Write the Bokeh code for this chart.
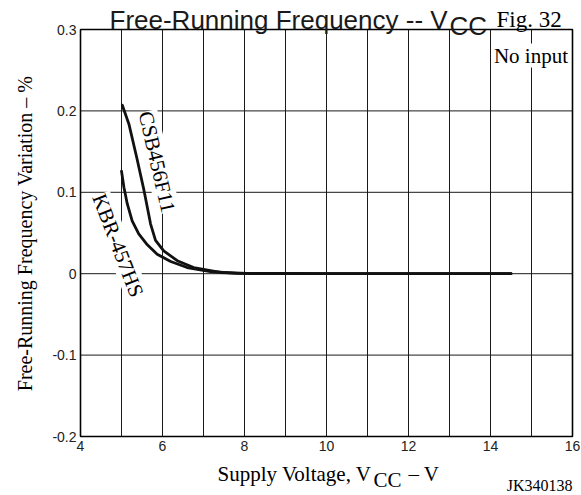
import math
from bokeh.plotting import figure
from bokeh.models import Label, Range1d
from bokeh.core.properties import value
from bokeh.embed import file_html
from bokeh.resources import INLINE

# ---- data ----
x_ticks = [4, 6, 8, 10, 12, 14, 16]
x_tick_labels = ["4", "6", "8", "10", "12", "14", "16"]
x_grid = [4, 5, 6, 7, 8, 9, 10, 11, 12, 13, 14, 15, 16]
y_ticks = [-0.2, -0.1, 0.0, 0.1, 0.2, 0.3]
y_tick_labels = ["-0.2", "-0.1", "0", "0.1", "0.2", "0.3"]

csb_v = [5.02, 5.18, 5.37, 5.55, 5.71, 5.83, 6.03, 6.36, 6.76, 7.41, 8.07, 10.0, 12.0, 14.5]
csb_f = [0.207, 0.184, 0.143, 0.102, 0.061, 0.041, 0.028, 0.016, 0.0076, 0.0015, 0.0003, 0.0, 0.0, 0.0]

kbr_v = [5.0, 5.06, 5.14, 5.26, 5.42, 5.63, 5.87, 6.2, 6.6, 7.17, 7.82, 10.0, 12.0, 14.5]
kbr_f = [0.126, 0.106, 0.086, 0.065, 0.049, 0.0355, 0.024, 0.015, 0.0076, 0.0027, 0.0003, 0.0, 0.0, 0.0]

SERIF = "Liberation Serif"
SANS = "Liberation Sans"

# ---- layout: the plot box occupies pixels [80, 572] x [29, 436] of a 581x495 canvas ----
W, H = 581, 495
BOX_L, BOX_R, BOX_T, BOX_B = 80, 572, 29, 436
x0, x1 = x_grid[0], x_grid[-1]
y0, y1 = y_ticks[0], y_ticks[-1]
sx = (BOX_R - BOX_L) / (x1 - x0)      # px per volt
sy = (BOX_B - BOX_T) / (y1 - y0)      # px per unit
xr = Range1d(x0 - BOX_L / sx, x1 + (W - BOX_R) / sx)
yr = Range1d(y0 - (H - BOX_B) / sy, y1 + BOX_T / sy)

def X(px):
    return x0 + (px - BOX_L) / sx

def Y(py):
    return y1 - (py - BOX_T) / sy

p = figure(width=W, height=H, x_range=xr, y_range=yr,
           output_backend="svg", toolbar_location=None,
           x_axis_location=None, y_axis_location=None,
           min_border=0)
p.background_fill_color = "white"
p.border_fill_color = "white"
p.outline_line_color = None
p.xgrid.visible = False
p.ygrid.visible = False

# grid lines at every volt and every 0.1 %
p.segment(x0=x_grid, y0=[y0] * len(x_grid), x1=x_grid, y1=[y1] * len(x_grid),
          line_color="#1a1a1a", line_width=1)
p.segment(x0=[x0] * len(y_ticks), y0=y_ticks, x1=[x1] * len(y_ticks), y1=y_ticks,
          line_color="#1a1a1a", line_width=1)
# plot box
p.quad(left=[x0], right=[x1], bottom=[y0], top=[y1], fill_color=None,
       line_color="black", line_width=1.6)

# tick labels
p.text(x=x_ticks, y=[y0] * len(x_ticks), text=x_tick_labels, y_offset=4,
       text_align="center", text_baseline="top", text_font=value(SANS),
       text_font_size="14px", text_color="#222222")
p.text(x=[x0] * len(y_ticks), y=y_ticks, text=y_tick_labels, x_offset=-4,
       text_align="right", text_baseline="middle", text_font=value(SANS),
       text_font_size="14px", text_color="#222222")

# curves
p.line(csb_v, csb_f, line_color="#111111", line_width=2.8, line_cap="round")
p.line(kbr_v, kbr_f, line_color="#111111", line_width=2.8, line_cap="round")

def lab(text, px, py, font=SERIF, size="20px", align="left", baseline="alphabetic",
        angle=0.0, color="black", bg=None):
    kw = dict(x=X(px), y=Y(py), text=text, text_font=font, text_font_size=size,
              text_align=align, text_baseline=baseline, angle=angle,
              text_color=color)
    if bg:
        kw["background_fill_color"] = bg
    p.add_layout(Label(**kw))

# curve labels
lab("CSB456F11", 156.5, 161.5, size="21px", align="center", baseline="middle",
    angle=math.radians(-77), bg="white")
lab("KBR-457HS", 117.5, 245, size="21px", align="center", baseline="middle",
    angle=math.radians(-69), bg="white")
lab("No input", 530.5, 55, size="21px", align="center", bg="white")

# title
lab("Free-Running Frequency -- V", 109, 19, font=SANS, size="26px", color="#1a1a1a")
lab("CC", 449, 25.5, font=SANS, size="26px", color="#1a1a1a")
lab("Fig. 32", 496, 19, size="23px")

# y axis title
lab("Free-Running Frequency Variation \u2013 %", 24, 233, size="20px",
    align="center", baseline="middle", angle=math.pi / 2)

# x axis title
lab("Supply Voltage, V", 217, 473, size="21px")
lab("CC", 373, 479, size="21px")
lab("\u2013 V", 408, 473, size="21px")
lab("JK340138", 572, 485, size="16px", align="right")

open("out.html", "w").write(file_html(p, INLINE))
